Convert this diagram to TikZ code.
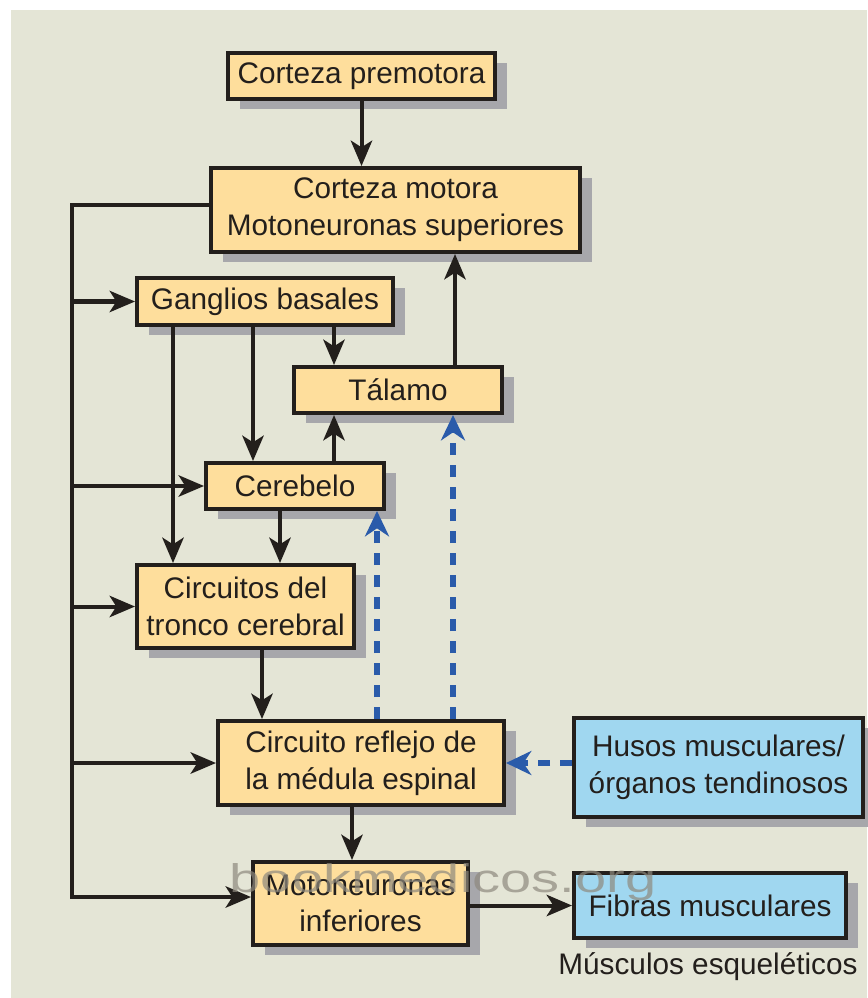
\documentclass[tikz,border=0pt]{standalone}
\usepackage{fontspec}
\setmainfont{Liberation Sans}
\usetikzlibrary{arrows.meta,shadows}
\definecolor{Canvas}{HTML}{E4E5D6}
\definecolor{Peach}{HTML}{FEDE9C}
\definecolor{Sky}{HTML}{A0D7F0}
\definecolor{Ink}{HTML}{231F1C}
\definecolor{Shade}{HTML}{A7A7AB}
\definecolor{Signal}{HTML}{2A5BAA}
\definecolor{Mark}{HTML}{8E897E}
\tikzset{
  >={Stealth[length=19pt,width=16pt,inset=5pt]},
  box/.style={draw=Ink,line width=3pt,fill=Peach,text=Ink,inner sep=0pt,align=center,
    font=\fontsize{22.3}{27.5}\selectfont,
    drop shadow={shadow xshift=9pt,shadow yshift=-7.5pt,fill=Shade,opacity=1}},
  organ/.style={box,fill=Sky},
  trans/.style={->,line width=3pt,draw=Ink},
  sense/.style={-{Stealth[length=19pt,width=18pt,inset=6pt]},line width=4.5pt,draw=Signal,dash pattern=on 9pt off 7.5pt},
  lab/.style={font=\fontsize{22.3}{27.5}\selectfont,text=Ink,inner sep=0pt}
}
\begin{document}
\begin{tikzpicture}[x=0.75pt,y=-0.75pt]
  \useasboundingbox (0,0) rectangle (867,998);
  \fill[white] (0,0) rectangle (867,998);
  \fill[Canvas] (11,10) rectangle (867,998);
  % cortical and subcortical stations
  \node[box,minimum width=200pt,minimum height=34.5pt] (prem) at (361.5,76) {Corteza premotora};
  \node[box,minimum width=276.75pt,minimum height=63pt] (motora) at (395.5,210) {Corteza motora\\Motoneuronas superiores};
  \node[box,minimum width=192pt,minimum height=35.25pt] (gang) at (265,301.5) {Ganglios basales};
  \node[box,minimum width=156pt,minimum height=34.5pt] (talamo) at (398,390) {T\'alamo};
  \node[box,minimum width=133.5pt,minimum height=34.5pt] (cereb) at (295,486) {Cerebelo};
  \node[box,minimum width=162.75pt,minimum height=62.25pt] (tronco) at (245.5,606.5) {Circuitos del\\tronco cerebral};
  \node[box,minimum width=214.5pt,minimum height=63pt] (reflejo) at (361,763) {Circuito reflejo de\\la m\'edula espinal};
  \node[box,minimum width=161.25pt,minimum height=62.25pt] (motoinf) at (360.5,903.5) {Motoneuronas\\inferiores};
  % periphery
  \node[organ,minimum width=216.75pt,minimum height=74.25pt] (husos) at (718.5,767.5) {Husos musculares/\\\'organos tendinosos};
  \node[organ,minimum width=204pt,minimum height=48.75pt] (fibras) at (710,905.5) {Fibras musculares};
  \node[lab] (musc) at (708,967) {M\'usculos esquel\'eticos};
  % descending bus
  \coordinate (bustop) at (72,205);
  \coordinate (busbot) at (72,897);
  \draw[trans] (motora.west |- bustop) -- (bustop) -- (busbot) -- (busbot -| motoinf.west);
  \foreach \n in {gang,cereb,tronco,reflejo}
    \draw[trans] (bustop |- \n.west) -- (\n.west);
  % vertical connections
  \draw[trans] (prem) -- (motora.north -| prem);
  \draw[trans] (455,0 |- talamo.north) -- (455,0 |- motora.south);
  \draw[trans] (334,0 |- gang.south) -- (334,0 |- talamo.north);
  \draw[trans] (253,0 |- gang.south) -- (253,0 |- cereb.north);
  \draw[trans] (173,0 |- gang.south) -- (173,0 |- tronco.north);
  \draw[trans] (334,0 |- cereb.north) -- (334,0 |- talamo.south);
  \draw[trans] (280,0 |- cereb.south) -- (280,0 |- tronco.north);
  \draw[trans] (262,0 |- tronco.south) -- (262,0 |- reflejo.north);
  \draw[trans] (352,0 |- reflejo.south) -- (352,0 |- motoinf.north);
  \draw[trans] (motoinf.east |- fibras.west) -- (fibras.west);
  % sensory feedback
  \draw[sense] (husos.west |- reflejo.east) -- (reflejo.east);
  \draw[sense] (377,0 |- reflejo.north) -- (377,0 |- cereb.south);
  \draw[sense] (453,0 |- reflejo.north) -- (453,0 |- talamo.south);
  % watermark
  \node[font=\fontsize{30}{30}\selectfont,text=Mark,opacity=.7,xscale=1.4,transform shape,anchor=base] (mark) at (443,892) {bookmedicos.org};
\end{tikzpicture}
\end{document}
